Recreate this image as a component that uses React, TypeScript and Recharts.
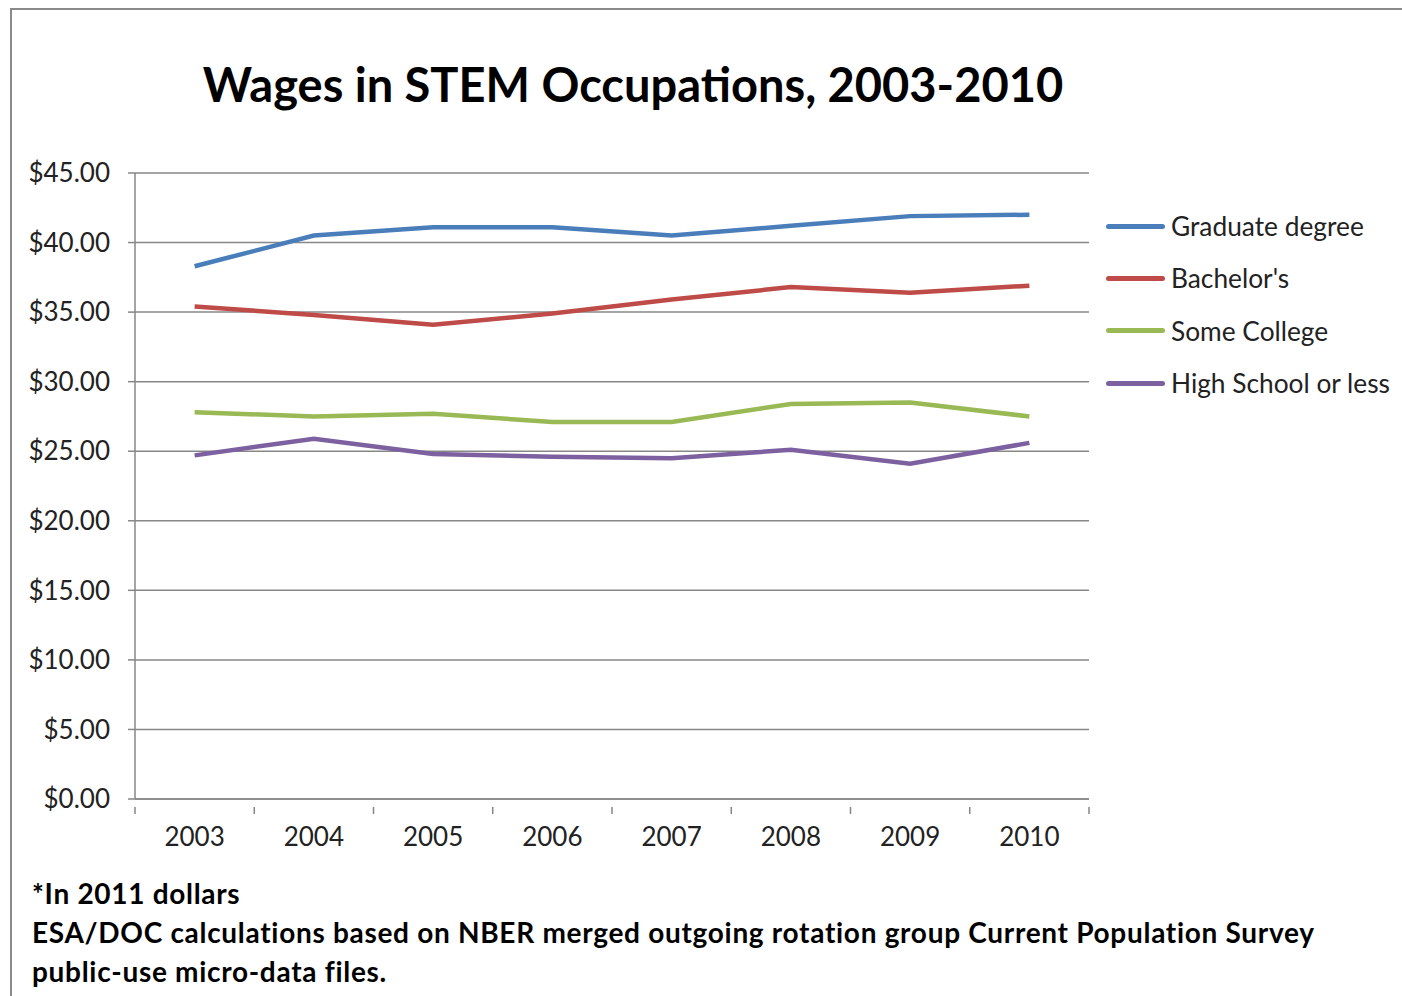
import React from 'react';
import { LineChart, Line, XAxis, YAxis, CartesianGrid } from 'recharts';

// Wages in STEM occupations, 2011 dollars
const years = ['2003', '2004', '2005', '2006', '2007', '2008', '2009', '2010'];
const graduate = [38.3, 40.5, 41.1, 41.1, 40.5, 41.2, 41.9, 42.0];
const bachelors = [35.4, 34.8, 34.1, 34.9, 35.9, 36.8, 36.4, 36.9];
const someCollege = [27.8, 27.5, 27.7, 27.1, 27.1, 28.4, 28.5, 27.5];
const highSchool = [24.7, 25.9, 24.8, 24.6, 24.5, 25.1, 24.1, 25.6];
const yTicks = [0, 5, 10, 15, 20, 25, 30, 35, 40, 45];

const series = [
  { key: 'graduate', name: 'Graduate degree', color: '#4A7EBB' },
  { key: 'bachelors', name: "Bachelor's", color: '#BE4B48' },
  { key: 'someCollege', name: 'Some College', color: '#98B954' },
  { key: 'highSchool', name: 'High School or less', color: '#7D60A0' },
];

const data = years.map((year, i) => ({
  year,
  graduate: graduate[i],
  bachelors: bachelors[i],
  someCollege: someCollege[i],
  highSchool: highSchool[i],
}));

const FONT = 'Lato, "Open Sans", sans-serif';
const GRID = '#878787';

const W = 1402;
const H = 996;
const M = { top: 173, right: 313, bottom: 157, left: 0 };
const Y_W = 135;
const PLOT_W = W - M.right - M.left - Y_W;
const HALF_BAND = PLOT_W / years.length / 2;

// category label plus tick marks on the band edges (Excel style)
const YearTick = (props: any) => {
  const { x, y, payload, index } = props;
  const last = index === years.length - 1;
  return (
    <g>
      <line x1={x - HALF_BAND} x2={x - HALF_BAND} y1={y} y2={y + 7} stroke={GRID} strokeWidth={1.5} />
      {last && <line x1={x + HALF_BAND} x2={x + HALF_BAND} y1={y} y2={y + 7} stroke={GRID} strokeWidth={1.5} />}
      <text x={x} y={y + 39} textAnchor="middle" fontFamily={FONT} fontSize={26} fill="#222">
        {payload.value}
      </text>
    </g>
  );
};

export default function App() {
  return (
    <div style={{ position: 'absolute', left: 0, top: 0, width: W, height: H, background: '#fff', overflow: 'hidden' }}>
      <div
        style={{
          position: 'absolute',
          left: 10,
          top: 8,
          width: 1400,
          height: 1000,
          borderLeft: '2px solid #8a8a8a',
          borderTop: '2px solid #8a8a8a',
        }}
      />
      <div
        style={{
          position: 'absolute',
          left: 0,
          width: 1266,
          top: 56,
          textAlign: 'center',
          fontFamily: FONT,
          fontWeight: 700,
          fontSize: 47,
          color: '#000',
        }}
      >
        Wages in STEM Occupations, 2003-2010
      </div>
      <div style={{ position: 'absolute', left: 0, top: 0 }}>
        <LineChart width={W} height={H} data={data} margin={M}>
          <CartesianGrid vertical={false} stroke={GRID} strokeWidth={1.5} />
          <XAxis
            dataKey="year"
            padding={{ left: HALF_BAND, right: HALF_BAND }}
            height={40}
            interval={0}
            axisLine={{ stroke: GRID, strokeWidth: 1.5 }}
            tickLine={false}
            tick={<YearTick />}
          />
          <YAxis
            width={Y_W}
            domain={[0, 45]}
            ticks={yTicks}
            interval={0}
            tickFormatter={(v: number) => `$${v.toFixed(2)}`}
            axisLine={{ stroke: GRID, strokeWidth: 1.5 }}
            tickLine={{ stroke: GRID, strokeWidth: 1.5 }}
            tickSize={7}
            tickMargin={18}
            tick={{ fontFamily: FONT, fontSize: 26, fill: '#222' }}
          />
          {series.map((s) => (
            <Line
              key={s.key}
              dataKey={s.key}
              name={s.name}
              stroke={s.color}
              strokeWidth={4.5}
              dot={false}
              activeDot={false}
              isAnimationActive={false}
            />
          ))}
        </LineChart>
      </div>
      <div style={{ position: 'absolute', left: 1106, top: 200, fontFamily: FONT, fontSize: 26.3, color: '#222' }}>
        {series.map((s) => (
          <div key={s.key} style={{ display: 'flex', alignItems: 'center', height: 52.3 }}>
            <span
              style={{
                display: 'inline-block',
                width: 59,
                height: 5,
                borderRadius: 3,
                background: s.color,
                marginRight: 6,
              }}
            />
            <span>{s.name}</span>
          </div>
        ))}
      </div>
      <div
        style={{
          position: 'absolute',
          left: 32,
          top: 874,
          fontFamily: FONT,
          fontWeight: 700,
          fontSize: 28,
          letterSpacing: 0.7,
          lineHeight: '39px',
          color: '#000',
        }}
      >
        <div>*In 2011 dollars</div>
        <div>ESA/DOC calculations based on NBER merged outgoing rotation group Current Population Survey</div>
        <div>public-use micro-data files.</div>
      </div>
    </div>
  );
}
